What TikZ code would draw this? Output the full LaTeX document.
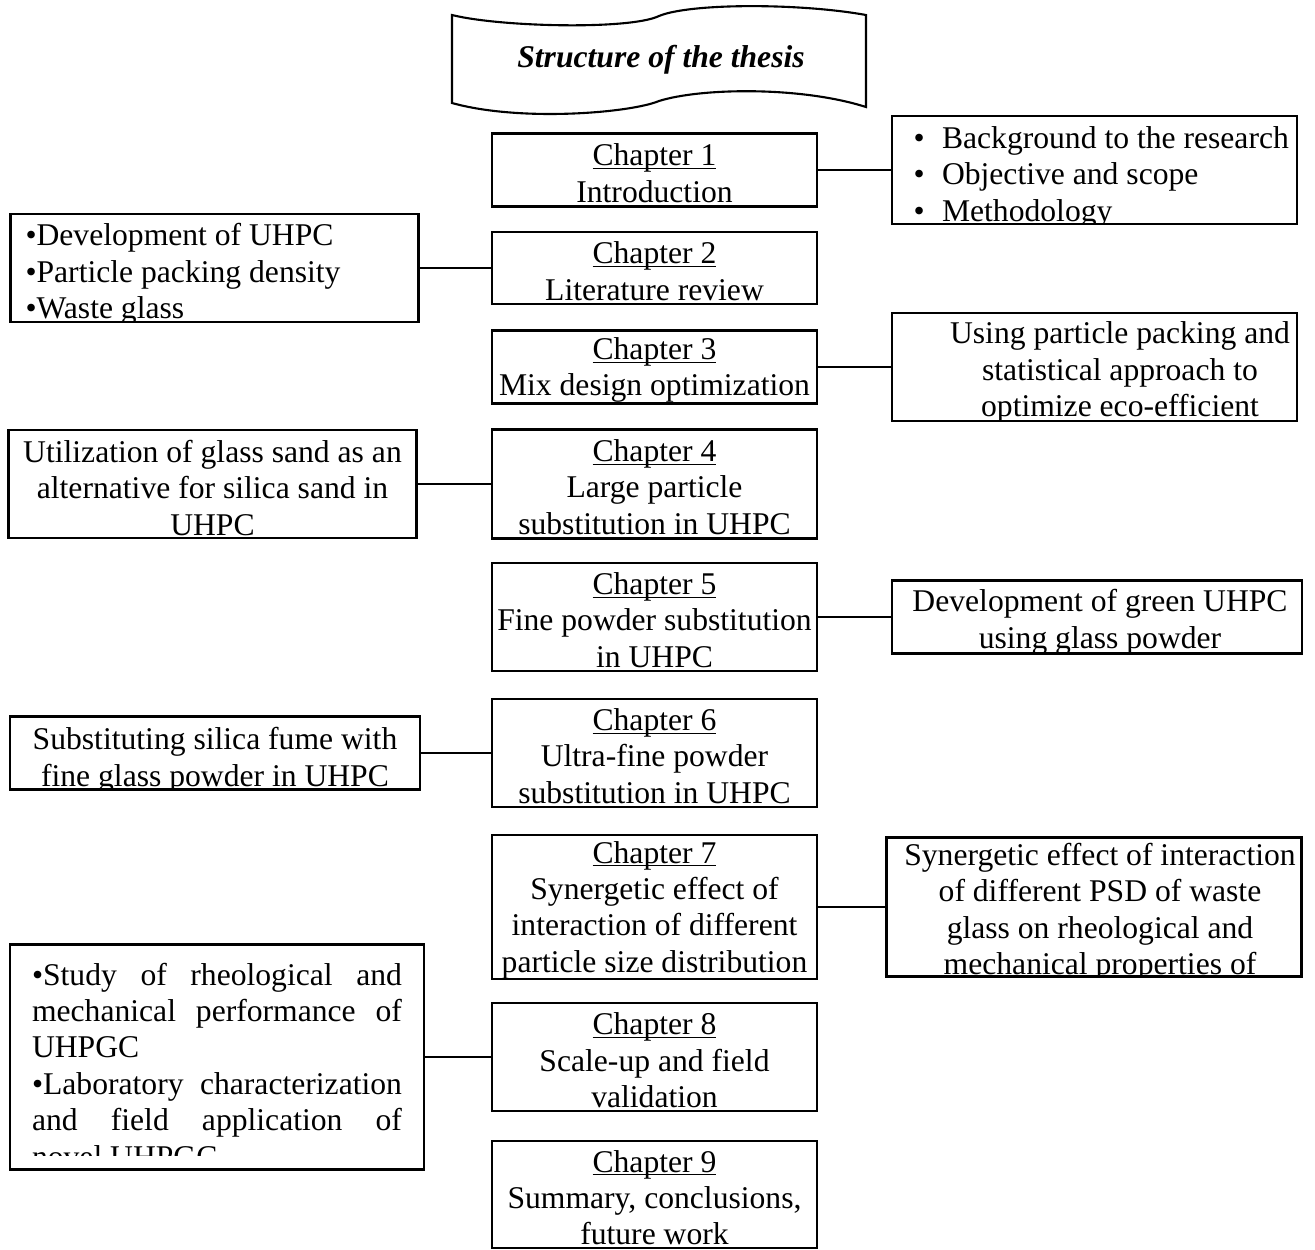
\documentclass[tikz,border=0pt]{standalone}
\usepackage{fontspec}
\setmainfont{Liberation Serif}
\usepackage{tikz}
\tikzstyle{txt} = [inner sep=0pt, align=center, anchor=north, font=\fontsize{18}{20.7}\selectfont]
\tikzstyle{box} = [draw, line width=1.2pt, inner sep=0pt, minimum width=8.16cm, minimum height=2.16cm]
\tikzstyle{chapbox} = [box, minimum width=6.5cm]
\tikzstyle{link} = [line width=1.2pt]
\newcommand{\chapname}[1]{\underline{\smash{#1}}}

\begin{document}
\begin{tikzpicture}[x=0.02cm, y=-0.02cm]
\useasboundingbox (0,0) rectangle (1315,1249);

% title banner
\node[txt, anchor=base, font=\fontsize{18}{20.7}\selectfont\bfseries\itshape] (title) at (661,67) {Structure of the thesis};
\draw[line width=1.2pt] (452,15) .. controls (500,27) and (630,30) .. (659,16) .. controls (690,3) and (800,3) .. (866,15) -- (866,107) .. controls (800,86) and (700,88) .. (659,101) .. controls (630,113) and (520,122) .. (452,103) -- cycle;

% chapters
\node[chapbox, minimum height=1.46cm, path picture={\node[txt] (t1) at ([yshift=-0.2pt]path picture bounding box.north) {\strut\chapname{Chapter 1}\\Introduction};}] (ch1) at (654.5,170) {};
\node[chapbox, minimum height=1.44cm, path picture={\node[txt] (t2) at ([yshift=-0.2pt]path picture bounding box.north) {\strut\chapname{Chapter 2}\\Literature review};}] (ch2) at (654.5,268) {};
\node[chapbox, minimum height=1.46cm, path picture={\node[txt] (t3) at ([yshift=-0.2pt]path picture bounding box.north) {\strut\chapname{Chapter 3}\\Mix design optimization};}] (ch3) at (654.5,367) {};
\node[chapbox, minimum height=2.18cm, path picture={\node[txt] (t4) at ([yshift=-0.2pt]path picture bounding box.north) {\strut\chapname{Chapter 4}\\Large particle\\substitution in UHPC};}] (ch4) at (654.5,484) {};
\node[chapbox, minimum height=2.16cm, path picture={\node[txt] (t5) at ([yshift=-0.2pt]path picture bounding box.north) {\strut\chapname{Chapter 5}\\Fine powder substitution\\in UHPC};}] (ch5) at (654.5,617) {};
\node[chapbox, minimum height=2.16cm, path picture={\node[txt] (t6) at ([yshift=-0.2pt]path picture bounding box.north) {\strut\chapname{Chapter 6}\\Ultra-fine powder\\substitution in UHPC};}] (ch6) at (654.5,753) {};
\node[chapbox, minimum height=2.88cm, path picture={\node[txt] (t7) at ([yshift=-0.2pt]path picture bounding box.north) {\strut\chapname{Chapter 7}\\Synergetic effect of\\interaction of different\\particle size distribution};}] (ch7) at (654.5,907) {};
\node[chapbox, minimum height=2.16cm, path picture={\node[txt] (t8) at ([yshift=-0.2pt]path picture bounding box.north) {\strut\chapname{Chapter 8}\\Scale-up and field\\validation};}] (ch8) at (654.5,1057) {};
\node[chapbox, minimum height=2.14cm, path picture={\node[txt] (t9) at ([yshift=-0.2pt]path picture bounding box.north) {\strut\chapname{Chapter 9}\\Summary, conclusions,\\future work};}] (ch9) at (654.5,1194.5) {};

% notes
\node[box, minimum width=8.1cm, path picture={\node[txt, text width=7.8cm, align=flush left] (n1) at ([xshift=0.28cm,yshift=-2.6pt]path picture bounding box.north) {\strut\makebox[0.57cm][l]{•}Background to the research\\\makebox[0.57cm][l]{•}Objective and scope\\\makebox[0.57cm][l]{•}Methodology};}] (r1) at (1094.5,170) {};
\node[box, path picture={\node[txt, text width=7.8cm, align=flush left] (n2) at ([xshift=0.12cm,yshift=-2.2pt]path picture bounding box.north) {\strut•Development of UHPC\\•Particle packing density\\•Waste glass};}] (l2) at (214.5,268) {};
\node[box, minimum width=8.1cm, path picture={\node[txt] (n3) at ([xshift=0.51cm,yshift=-1.5pt]path picture bounding box.north) {\strut Using particle packing and\\statistical approach to\\optimize eco-efficient};}] (r3) at (1094.5,367) {};
\node[box, path picture={\node[txt] (n4) at ([yshift=-0.6pt]path picture bounding box.north) {\strut Utilization of glass sand as an\\alternative for silica sand in\\UHPC};}] (l4) at (212.5,484) {};
\node[box, minimum width=8.2cm, minimum height=1.46cm, path picture={\node[txt] (n5) at ([xshift=0.06cm,yshift=-1.4pt]path picture bounding box.north) {\strut Development of green UHPC\\using glass powder};}] (r5) at (1097,617) {};
\node[box, minimum width=8.2cm, minimum height=1.46cm, path picture={\node[txt] (n6) at ([yshift=-2.6pt]path picture bounding box.north) {\strut Substituting silica fume with\\fine glass powder in UHPC};}] (l6) at (215,753) {};
\node[box, minimum width=8.3cm, minimum height=2.78cm, path picture={\node[txt] (n7) at ([xshift=0.12cm,yshift=-0.9pt]path picture bounding box.north) {\strut Synergetic effect of interaction\\of different PSD of waste\\glass on rheological and\\mechanical properties of};}] (r7) at (1094,907) {};
\node[box, minimum width=8.28cm, minimum height=4.5cm, path picture={\clip (path picture bounding box.north west) rectangle ([yshift=0.28cm]path picture bounding box.south east); \node[txt, text width=7.4cm, align=justify] (n8) at ([yshift=-3.1pt]path picture bounding box.north) {\noindent\strut •Study of rheological and\linebreak mechanical performance of\linebreak UHPGC\endgraf\noindent •Laboratory characterization\linebreak and field application of\linebreak novel UHPGC};}] (l8) at (217,1057) {};

\draw[link] (ch1) -- (r1);
\draw[link] (ch2) -- (l2);
\draw[link] (ch3) -- (r3);
\draw[link] (ch4) -- (l4);
\draw[link] (ch5) -- (r5);
\draw[link] (ch6) -- (l6);
\draw[link] (ch7) -- (r7);
\draw[link] (ch8) -- (l8);
\end{tikzpicture}
\end{document}
